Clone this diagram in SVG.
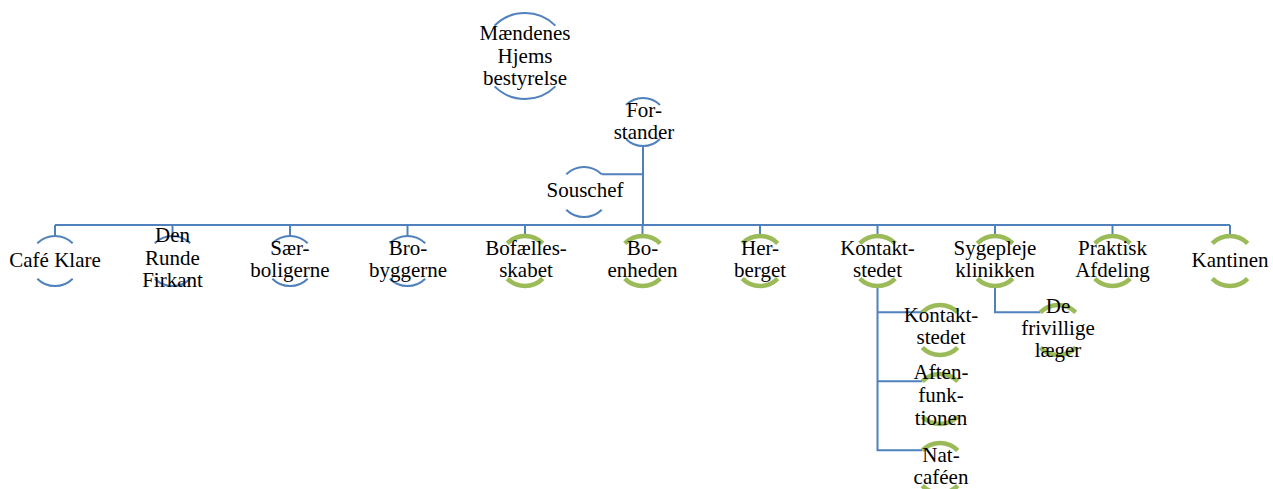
<svg xmlns="http://www.w3.org/2000/svg" width="1273" height="489" viewBox="0 0 1273 489">
  <style>
    .conn { fill: none; stroke: #4F81BD; stroke-width: 2; }
    .arcB { fill: none; stroke: #4F81BD; stroke-width: 2; }
    .arcG { fill: none; stroke: #9BBB59; stroke-width: 4.5; }
    text { font-family: "Liberation Serif", "DejaVu Serif", serif; font-size: 21px; fill: #000; text-anchor: middle; }
  </style>
  <rect width="1273" height="489" fill="#fff"/>

  <!-- connectors -->
  <g id="connectors" class="conn">
    <path d="M643,146 V225"/>
    <path d="M601.7,174.3 H643"/>
    <path d="M55,225 H1230"/>
    <path d="M55,225 V236 M172.5,225 V236 M290,225 V236 M407.5,225 V236 M525,225 V236 M642.5,225 V236 M760,225 V236 M877.5,225 V236 M995,225 V236 M1112.5,225 V236 M1230,225 V236"/>
    <path d="M877.5,286 V450.3 H922.3 M877.5,312.3 H922.3 M877.5,381.3 H922.3"/>
    <path d="M995,286 V312.3 H1040.3"/>
  </g>

  <!-- board -->
  <g id="bestyrelse">
    <path class="arcB" d="M494.6,25.6 A43,43 0 0 1 555.4,25.6 M494.6,86.4 A43,43 0 0 0 555.4,86.4"/>
    <text x="525" y="40">Mændenes</text>
    <text x="525" y="63">Hjems</text>
    <text x="525" y="85">bestyrelse</text>
  </g>

  <g id="forstander">
    <path class="arcB" d="M626,105 A24,24 0 0 1 660,105 M626,139 A24,24 0 0 0 660,139"/>
    <text x="644" y="117">For-</text>
    <text x="644" y="139">stander</text>
  </g>

  <g id="souschef">
    <path class="arcB" d="M566.3,174.3 A25,25 0 0 1 601.7,174.3 M566.3,209.7 A25,25 0 0 0 601.7,209.7"/>
    <text x="585" y="197">Souschef</text>
  </g>

  <!-- departments -->
  <g id="cafe-klare">
    <path class="arcB" d="M37.3,243.3 A25,25 0 0 1 72.7,243.3 M37.3,278.7 A25,25 0 0 0 72.7,278.7"/>
    <text x="55" y="267">Café Klare</text>
  </g>

  <g id="den-runde-firkant">
    <path class="arcB" d="M154.8,243.3 A25,25 0 0 1 190.2,243.3 M154.8,278.7 A25,25 0 0 0 190.2,278.7"/>
    <text x="172.5" y="242">Den</text>
    <text x="172.5" y="265">Runde</text>
    <text x="172.5" y="287">Firkant</text>
  </g>

  <g id="saerboligerne">
    <path class="arcB" d="M272.3,243.3 A25,25 0 0 1 307.7,243.3 M272.3,278.7 A25,25 0 0 0 307.7,278.7"/>
    <text x="290" y="255">Sær-</text>
    <text x="290" y="277">boligerne</text>
  </g>

  <g id="brobyggerne">
    <path class="arcB" d="M389.8,243.3 A25,25 0 0 1 425.2,243.3 M389.8,278.7 A25,25 0 0 0 425.2,278.7"/>
    <text x="408" y="255">Bro-</text>
    <text x="408" y="277">byggerne</text>
  </g>

  <g id="bofaellesskabet">
    <path class="arcG" d="M507.3,243.3 A25,25 0 0 1 542.7,243.3 M507.3,278.7 A25,25 0 0 0 542.7,278.7"/>
    <text x="526" y="255">Bofælles-</text>
    <text x="526" y="277">skabet</text>
  </g>

  <g id="boenheden">
    <path class="arcG" d="M624.8,243.3 A25,25 0 0 1 660.2,243.3 M624.8,278.7 A25,25 0 0 0 660.2,278.7"/>
    <text x="642.5" y="255">Bo-</text>
    <text x="642.5" y="277">enheden</text>
  </g>

  <g id="herberget">
    <path class="arcG" d="M742.3,243.3 A25,25 0 0 1 777.7,243.3 M742.3,278.7 A25,25 0 0 0 777.7,278.7"/>
    <text x="760" y="255">Her-</text>
    <text x="760" y="277">berget</text>
  </g>

  <g id="kontaktstedet">
    <path class="arcG" d="M859.8,243.3 A25,25 0 0 1 895.2,243.3 M859.8,278.7 A25,25 0 0 0 895.2,278.7"/>
    <text x="877.5" y="255">Kontakt-</text>
    <text x="877.5" y="277">stedet</text>
  </g>

  <g id="sygeplejeklinikken">
    <path class="arcG" d="M977.3,243.3 A25,25 0 0 1 1012.7,243.3 M977.3,278.7 A25,25 0 0 0 1012.7,278.7"/>
    <text x="995" y="255">Sygepleje</text>
    <text x="995" y="277">klinikken</text>
  </g>

  <g id="praktisk-afdeling">
    <path class="arcG" d="M1094.8,243.3 A25,25 0 0 1 1130.2,243.3 M1094.8,278.7 A25,25 0 0 0 1130.2,278.7"/>
    <text x="1112.5" y="255">Praktisk</text>
    <text x="1112.5" y="277">Afdeling</text>
  </g>

  <g id="kantinen">
    <path class="arcG" d="M1212.3,243.3 A25,25 0 0 1 1247.7,243.3 M1212.3,278.7 A25,25 0 0 0 1247.7,278.7"/>
    <text x="1230" y="267">Kantinen</text>
  </g>

  <!-- units under Kontaktstedet -->
  <g id="kontaktstedet-unit">
    <path class="arcG" d="M922.3,312.3 A25,25 0 0 1 957.7,312.3 M922.3,347.7 A25,25 0 0 0 957.7,347.7"/>
    <text x="941" y="322">Kontakt-</text>
    <text x="941" y="344">stedet</text>
  </g>

  <g id="aftenfunktionen">
    <path class="arcG" d="M922.3,381.3 A25,25 0 0 1 957.7,381.3 M922.3,416.7 A25,25 0 0 0 957.7,416.7"/>
    <text x="941" y="379">Aften-</text>
    <text x="941" y="402">funk-</text>
    <text x="941" y="425">tionen</text>
  </g>

  <g id="natcafeen">
    <path class="arcG" d="M922.3,450.3 A25,25 0 0 1 957.7,450.3 M922.3,485.7 A25,25 0 0 0 957.7,485.7"/>
    <text x="941" y="462">Nat-</text>
    <text x="941" y="484">caféen</text>
  </g>

  <!-- unit under Sygeplejeklinikken -->
  <g id="frivillige-laeger">
    <path class="arcG" d="M1040.3,312.3 A25,25 0 0 1 1075.7,312.3 M1040.3,347.7 A25,25 0 0 0 1075.7,347.7"/>
    <text x="1058" y="313">De</text>
    <text x="1058" y="335">frivillige</text>
    <text x="1058" y="357">læger</text>
  </g>
</svg>
